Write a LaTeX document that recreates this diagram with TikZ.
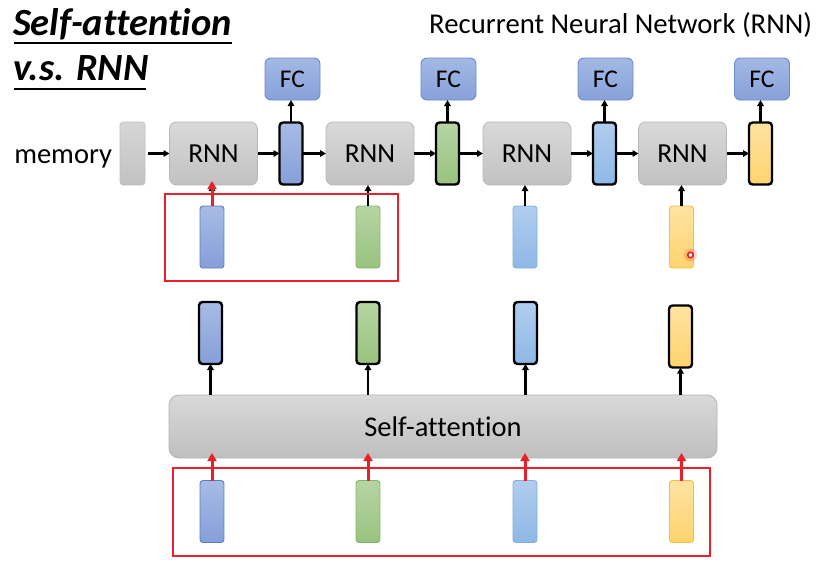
\documentclass[tikz,border=0pt]{standalone}
\usepackage{fontspec}
\setmainfont{Carlito}[Ligatures={NoCommon,NoRequired,NoContextual}]
\usetikzlibrary{arrows.meta,calc}
\definecolor{redc}{HTML}{E8202A}
\begin{document}
\begin{tikzpicture}[x=1pt,y=-1pt,
  every node/.style={inner sep=0pt, outer sep=0pt},
  rnnbox/.style={draw=black!28, line width=0.8pt, rounded corners=7pt,
    top color=black!15, bottom color=black!24, minimum width=88pt, minimum height=63pt,
    font=\fontsize{27.5}{30}\selectfont},
  membox/.style={draw=black!25, line width=0.6pt, rounded corners=3pt,
    top color=black!16, bottom color=black!24, minimum width=25pt, minimum height=63pt},
  fcbox/.style={draw=fcline, line width=0.9pt, rounded corners=6pt,
    top color=fctop, bottom color=fcbot, minimum width=55pt, minimum height=42pt,
    font=\fontsize{25.5}{28}\selectfont},
  outvec/.style={draw=black, line width=2.4pt, rounded corners=3.5pt,
    minimum width=23pt, minimum height=62pt},
  invec/.style={line width=0.9pt, rounded corners=3pt,
    minimum width=24pt, minimum height=62pt},
  cblue/.style={top color=blueT, bottom color=blueB},
  cgreen/.style={top color=greenT, bottom color=greenB},
  clight/.style={top color=lightT, bottom color=lightB},
  cyellow/.style={top color=yellowT, bottom color=yellowB},
  arr/.style={-{Triangle[length=6pt,width=6.5pt]}, line width=2.2pt, black},
  redarr/.style={-{Triangle[length=8pt,width=9pt]}, line width=3pt, redc},
  redframe/.style={draw=redc, line width=2pt}
]
\definecolor{fcline}{HTML}{6A8BCB}
\definecolor{fctop}{HTML}{A3B8E4}
\definecolor{fcbot}{HTML}{87A1DA}
\definecolor{blueT}{HTML}{A8BBE5}
\definecolor{blueB}{HTML}{859FD8}
\definecolor{greenT}{HTML}{B7D5A3}
\definecolor{greenB}{HTML}{98C37F}
\definecolor{lightT}{HTML}{B0CDEE}
\definecolor{lightB}{HTML}{8EB8E6}
\definecolor{yellowT}{HTML}{FFE3A2}
\definecolor{yellowB}{HTML}{FFD36E}
\definecolor{blueline}{HTML}{5B7BC4}
\definecolor{greenline}{HTML}{86B46C}
\definecolor{lightline}{HTML}{7FAEE0}
\definecolor{yellowline}{HTML}{F0C040}
\useasboundingbox (0,0) rectangle (828,574);

% title
\node[anchor=base west, font=\fontsize{38.5}{40}\selectfont\bfseries\itshape] (t1) at (13,35) {Self-attention};
\node[anchor=base west, font=\fontsize{38.5}{40}\selectfont\bfseries\itshape] (t2) at (13,80) {v.s. RNN};
\draw[line width=1.5pt] (14,43) -- (232,43);
\draw[line width=1.5pt] (14,89) -- (146,89);

\node[anchor=base east, font=\fontsize{28.7}{30}\selectfont] (rnntitle) at (812,33) {Recurrent Neural Network (RNN)};
\node[anchor=base east, font=\fontsize{28.5}{30}\selectfont] (memlabel) at (112,163) {memory};

% RNN chain
\node[membox] (mem) at (132.5,153.5) {};
\node[rnnbox] (r1) at (213.5,153.5) {RNN};
\node[rnnbox] (r2) at (370,153.5) {RNN};
\node[rnnbox] (r3) at (527,153.5) {RNN};
\node[rnnbox] (r4) at (682.5,153.5) {RNN};

\node[outvec,cblue] (h1) at (291,153.5) {};
\node[outvec,cgreen] (h2) at (447.5,153.5) {};
\node[outvec,clight] (h3) at (604.5,153.5) {};
\node[outvec,cyellow] (h4) at (760.5,153.5) {};

\node[fcbox] (f1) at (292.5,79) {FC};
\node[fcbox] (f2) at (448.5,79) {FC};
\node[fcbox] (f3) at (605.5,79) {FC};
\node[fcbox] (f4) at (762,79) {FC};

\node[invec,draw=blueline,cblue] (x1) at (212,237) {};
\node[invec,draw=greenline,cgreen] (x2) at (368,237) {};
\node[invec,draw=lightline,clight] (x3) at (525,237) {};
\node[invec,draw=yellowline,cyellow] (x4) at (681.5,237) {};

\draw[arr] (mem.east) ++(3,0) -- (r1.west);
\draw[arr] (r1.east) -- (h1.west);
\draw[arr] (h1.east) -- (r2.west);
\draw[arr] (r2.east) -- (h2.west);
\draw[arr] (h2.east) -- (r3.west);
\draw[arr] (r3.east) -- (h3.west);
\draw[arr] (h3.east) -- (r4.west);
\draw[arr] (r4.east) -- (h4.west);
\foreach \i in {1,2,3,4} {
  \draw[arr] (h\i.north) -- (f\i.south -| h\i.north);
}
\draw[arr] (x1.north) -- (r1.south -| x1.north);
\draw[arr] (x2.north) -- (r2.south -| x2.north);
\draw[arr] (x3.north) -- (r3.south -| x3.north);
\draw[arr] (x4.north) -- (r4.south -| x4.north);
\draw[redarr] (x1.north) -- ($(r1.south -| x1.north)+(0,-4)$);

\node[draw=none, minimum width=233pt, minimum height=87pt] (rb1) at (281.5,237.5) {};
\draw[redframe] (rb1.north west) rectangle (rb1.south east);

% red pointer dot
\coordinate (dot) at (690.5,255);
\fill[redc, opacity=0.18] (dot) circle (6.5);
\draw[redc, line width=1.6pt, fill=white] (dot) circle (2.8);

% self-attention
\node[draw=black!30, line width=0.8pt, rounded corners=10pt, top color=black!15, bottom color=black!25,
  minimum width=548pt, minimum height=63pt, font=\fontsize{28.5}{30}\selectfont] (sa) at (443,426.5) {Self-attention};

\node[outvec,cblue] (o1) at (210.5,333) {};
\node[outvec,cgreen] (o2) at (368,333) {};
\node[outvec,clight] (o3) at (525.5,333) {};
\node[outvec,cyellow] (o4) at (680.5,336.5) {};
\foreach \i in {1,2,3,4} {
  \draw[arr] (sa.north -| o\i.south) -- (o\i.south);
}

\node[invec,draw=blueline,cblue] (y1) at (212,511.5) {};
\node[invec,draw=greenline,cgreen] (y2) at (368,511.5) {};
\node[invec,draw=lightline,clight] (y3) at (525,511.5) {};
\node[invec,draw=yellowline,cyellow] (y4) at (681.5,511.5) {};
\foreach \i in {1,2,3,4} {
  \draw[redarr] (y\i.north) -- ($(sa.south -| y\i.north)+(0,-5)$);
}

\node[draw=none, minimum width=537pt, minimum height=88pt] (rb2) at (441.5,512) {};
\draw[redframe] (rb2.north west) rectangle (rb2.south east);
\end{tikzpicture}
\end{document}
